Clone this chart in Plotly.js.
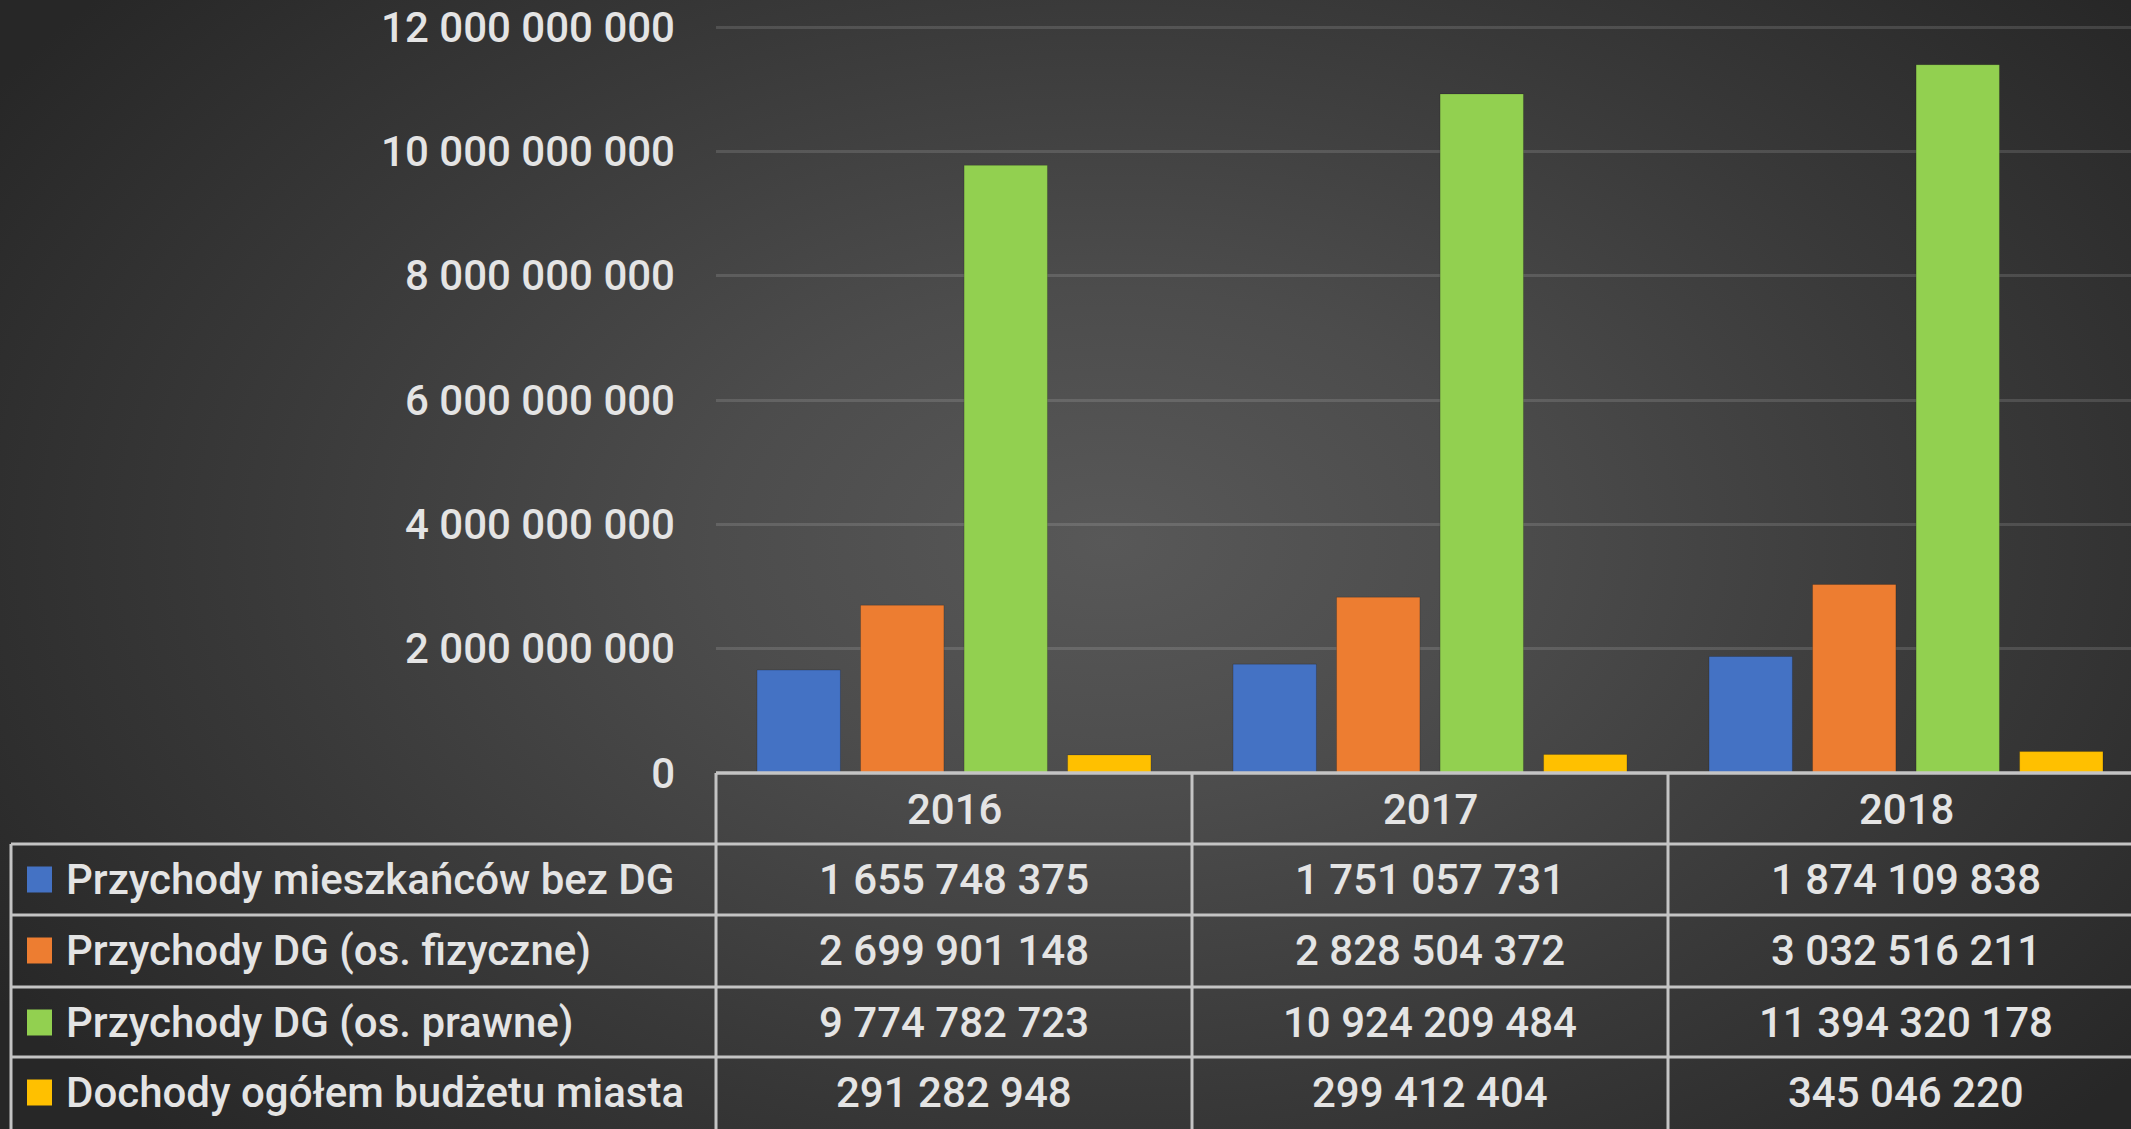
<!DOCTYPE html>
<html>
<head>
<meta charset="utf-8">
<script src="https://cdn.plot.ly/plotly-3.0.1.min.js"></script>
<style>
html,body{margin:0;padding:0;width:2131px;height:1129px;overflow:hidden;
background: radial-gradient(ellipse 62% 75% at 52% 48%, #585858 0%, #4c4c4c 30%, #393939 65%, #272727 100%);}
#chart{width:2131px;height:1129px;}
</style>
</head>
<body>
<div id="chart"></div>
<script>
// ---- data ----
const years = ['2016', '2017', '2018'];
const seriesNames = [
  'Przychody mieszkańców bez DG',
  'Przychody DG (os. fizyczne)',
  'Przychody DG (os. prawne)',
  'Dochody ogółem budżetu miasta'
];
const przychodyMieszkancow = [1655748375, 1751057731, 1874109838];
const przychodyDGFizyczne = [2699901148, 2828504372, 3032516211];
const przychodyDGPrawne = [9774782723, 10924209484, 11394320178];
const dochodyBudzetu = [291282948, 299412404, 345046220];
const yTickVals = [0, 2e9, 4e9, 6e9, 8e9, 10e9, 12e9];

const seriesValues = [przychodyMieszkancow, przychodyDGFizyczne, przychodyDGPrawne, dochodyBudzetu];
const colors = ['#4472C4', '#ED7D31', '#92D050', '#FFC000'];

// ---- geometry helpers (figure px -> paper coords) ----
const W = 2131, H = 1129;
const mL = 716, mR = 0, mT = 0, mB = 356;
const pw = W - mL - mR, ph = H - mT - mB;
const catW = 476;
const X = px => (px - mL) / pw;
const Y = py => (H - mB - py) / ph;
const colCenter = j => X(mL + catW / 2 + catW * j);

function fmt(n) {
  return String(n).replace(/\B(?=(\d{3})+(?!\d))/g, ' ');
}

const FONT = 'Roboto, "Open Sans", sans-serif';
const TXT = '#e4e4e4';
const LINE = '#c4c4c4';
const WEIGHT = 500;

const traces = seriesNames.map((name, i) => ({
  type: 'bar',
  name: name,
  x: years,
  y: seriesValues[i],
  marker: {color: colors[i], line: {color: 'rgba(0,0,0,0.18)', width: 1}},
  hoverinfo: 'x+y+name'
}));

// table
const shapes = [];
const annotations = [];
const rowTops = [773, 844, 915, 987, 1057];
const colX = [716, 1192, 1668];
const rowH = 71;
shapes.push({type:'line', xref:'paper', yref:'paper', x0:X(716), x1:X(W), y0:Y(773), y1:Y(773), line:{color:LINE, width:3.5}});
for (let r = 1; r < rowTops.length; r++) {
  shapes.push({type:'line', xref:'paper', yref:'paper', x0:X(11), x1:X(W), y0:Y(rowTops[r]), y1:Y(rowTops[r]), line:{color:LINE, width:3}});
}
colX.forEach(cx => shapes.push({type:'line', xref:'paper', yref:'paper', x0:X(cx), x1:X(cx), y0:Y(773), y1:Y(H), line:{color:LINE, width:3}}));
shapes.push({type:'line', xref:'paper', yref:'paper', x0:X(11), x1:X(11), y0:Y(844), y1:Y(H), line:{color:LINE, width:3}});

const tfont = {family:FONT, size:42, color:TXT, weight:WEIGHT};
years.forEach((yr, j) => {
  annotations.push({xref:'paper', yref:'paper', x: colCenter(j), y: Y(809), text: yr, showarrow:false,
    xanchor:'center', yanchor:'middle', font:tfont});
});
seriesNames.forEach((name, i) => {
  const cy = rowTops[i + 1] + rowH / 2;
  shapes.push({type:'rect', xref:'paper', yref:'paper', x0:X(27), x1:X(52), y0:Y(cy - 13), y1:Y(cy + 13),
    fillcolor: colors[i], line:{width:0}});
  annotations.push({xref:'paper', yref:'paper', x: X(64), y: Y(cy), text: name, showarrow:false,
    xanchor:'left', yanchor:'middle', font:tfont});
  years.forEach((yr, j) => {
    annotations.push({xref:'paper', yref:'paper', x: colCenter(j), y: Y(cy), text: fmt(seriesValues[i][j]), showarrow:false,
      xanchor:'center', yanchor:'middle', font:tfont});
  });
});

const layout = {
  width: W, height: H,
  margin: {l: mL, r: mR, t: mT, b: mB, pad: 0},
  paper_bgcolor: 'rgba(0,0,0,0)',
  plot_bgcolor: 'rgba(0,0,0,0)',
  separators: ', ',
  showlegend: false,
  barmode: 'group',
  bargap: 0.13,
  bargroupgap: 0.195,
  font: {family: FONT, color: TXT, size: 42},
  xaxis: {
    type: 'category',
    range: [-0.5, -0.5 + (W - mL) / catW],
    showticklabels: false, showgrid: false, zeroline: false, showline: false, ticks: ''
  },
  yaxis: {
    range: [0, 12e9 + 12e9 * 27 / 746],
    tickvals: yTickVals,
    tickformat: ',d',
    showgrid: true, gridcolor: 'rgba(255,255,255,0.13)', gridwidth: 3,
    zeroline: false, showline: false, ticks: '',
    ticklabelstandoff: 40,
    tickfont: {family: FONT, size: 42, color: TXT, weight: WEIGHT}
  },
  shapes: shapes,
  annotations: annotations
};

Plotly.newPlot('chart', traces, layout, {displayModeBar: false, staticPlot: true});
</script>
</body>
</html>
